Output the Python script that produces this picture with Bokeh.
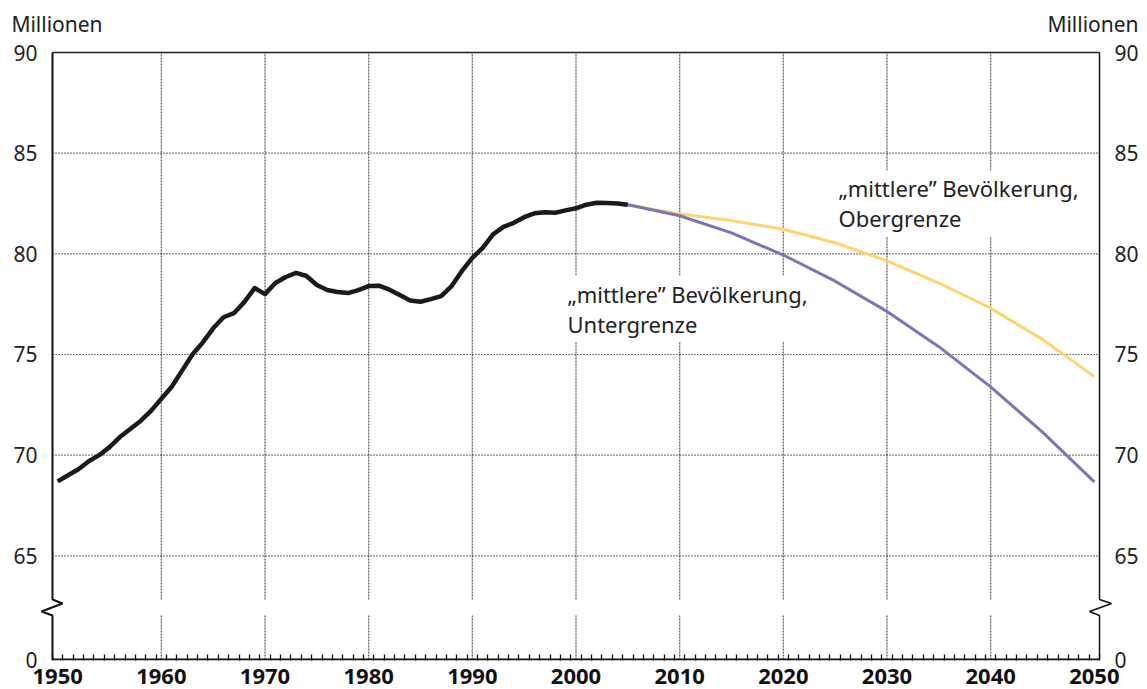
from bokeh.plotting import figure
from bokeh.models import FixedTicker, LinearAxis, Range1d, Label
from bokeh.embed import file_html
from bokeh.resources import INLINE

# ---------------- data (millions) ----------------
hist_years = list(range(1950, 2006))
hist_pop = [68.7, 69.0, 69.3, 69.7, 70.0, 70.4, 70.9, 71.3, 71.7, 72.2,
            72.8, 73.4, 74.2, 75.0, 75.6, 76.3, 76.85, 77.05, 77.6, 78.3,
            78.0, 78.55, 78.85, 79.05, 78.9, 78.45, 78.2, 78.1, 78.05, 78.2,
            78.4, 78.42, 78.22, 77.95, 77.68, 77.62, 77.75, 77.9, 78.4, 79.15,
            79.8, 80.3, 80.97, 81.34, 81.54, 81.82, 82.01, 82.06, 82.04, 82.16,
            82.26, 82.44, 82.54, 82.53, 82.5, 82.44]

proj_years = [2005, 2010, 2015, 2020, 2025, 2030, 2035, 2040, 2045, 2050]
lower_pop = [82.44, 81.89, 81.04, 79.94, 78.64, 77.14, 75.39, 73.39, 71.14, 68.67]
upper_pop = [82.44, 81.98, 81.65, 81.22, 80.55, 79.65, 78.55, 77.3, 75.75, 73.9]

x_tick_years = list(range(1950, 2051, 10))
x_grid_years = list(range(1960, 2041, 10))
y_ticks = [65, 70, 75, 80, 85, 90]
y_grid = [65, 70, 75, 80, 85]

label_upper = "\u201emittlere\u201d Bev\u00f6lkerung,\nObergrenze"
label_lower = "\u201emittlere\u201d Bev\u00f6lkerung,\nUntergrenze"
unit_text = "Millionen"

# ---------------- layout constants ----------------
ZERO = 59.85            # plot position where the broken axis shows "0"
FONT = "Noto Sans"
X0, X1 = 1949.5, 2050.5
PXX = (X1 - X0) / 1047.0      # years per pixel
PXY = (90 - ZERO) / 607.0     # units per pixel
B_TOP = ZERO + 60 * PXY       # axis break (gap) top
B_BOT = B_TOP - 16 * PXY      # axis break (gap) bottom
AX = "#111111"

p = figure(width=1147, height=689, output_backend="svg", toolbar_location=None,
           x_range=Range1d(X0 - 14 * PXX, X1 + 14 * PXX),
           y_range=Range1d(ZERO - 1 * PXY, 90 + 2 * PXY),
           min_border_left=38, min_border_right=34, min_border_top=50,
           min_border_bottom=29)
p.outline_line_color = None
p.background_fill_color = "white"
p.border_fill_color = "white"
p.xgrid.visible = False
p.ygrid.visible = False

# ---- x axis (labels + year ticks) ----
xa = p.xaxis[0]
xa.ticker = FixedTicker(ticks=x_tick_years,
                        minor_ticks=[y - 0.5 for y in range(1950, 2052)])
xa.axis_line_color = None
xa.major_tick_in = 0
xa.major_tick_out = 0
xa.minor_tick_in = 6
xa.minor_tick_out = 0
xa.minor_tick_line_width = 1.3
xa.minor_tick_line_color = AX
xa.major_label_text_font = FONT
xa.major_label_text_font_size = "22px"
xa.major_label_text_font_style = "bold"
xa.major_label_text_color = AX
xa.major_label_standoff = 8

# ---- y axes ----
def style_y(ax, standoff):
    ax.ticker = FixedTicker(ticks=[ZERO] + y_ticks)
    ax.major_label_overrides = {ZERO: "0"}
    ax.axis_line_color = None
    ax.major_tick_in = 0
    ax.major_tick_out = 0
    ax.minor_tick_in = 0
    ax.minor_tick_out = 0
    ax.major_label_text_font = FONT
    ax.major_label_text_font_size = "21px"
    ax.major_label_text_color = "#222222"
    ax.major_label_standoff = standoff

style_y(p.yaxis[0], 1)
ra = LinearAxis()
style_y(ra, 1)
p.add_layout(ra, "right")

# ---- unit captions above both value axes ----
M_LEFT = X0 + 4.5 * PXX
M_RIGHT = X1 - 6.5 * PXX
ta = LinearAxis(ticker=FixedTicker(ticks=[M_LEFT, M_RIGHT]))
ta.major_label_overrides = {M_LEFT: unit_text, M_RIGHT: unit_text}
ta.axis_line_color = None
ta.major_tick_in = 0
ta.major_tick_out = 0
ta.minor_tick_in = 0
ta.minor_tick_out = 0
ta.major_label_text_font = FONT
ta.major_label_text_font_size = "21px"
ta.major_label_text_color = "#222222"
ta.major_label_standoff = 13
p.add_layout(ta, "above")

# ---- grid (interrupted at the axis break) ----
n = len(x_grid_years)
p.segment(x0=x_grid_years, y0=[ZERO] * n, x1=x_grid_years, y1=[B_BOT] * n,
          line_color="#6e6e6e", line_dash="2 1", line_width=1.4)
p.segment(x0=x_grid_years, y0=[B_TOP] * n, x1=x_grid_years, y1=[90] * n,
          line_color="#6e6e6e", line_dash="2 1", line_width=1.4)
m = len(y_grid)
p.segment(x0=[X0] * m, y0=y_grid, x1=[X1] * m, y1=y_grid,
          line_color="#000000", line_dash="1 2", line_width=1.2)

# ---- series ----
p.line(proj_years, upper_pop, line_color="#ffd46e", line_width=3,
       line_join="round")
p.line(proj_years, lower_pop, line_color="#7d74b6", line_width=3,
       line_join="round")
p.line(hist_years, hist_pop, line_color="#1a1a1a", line_width=4.5,
       line_join="round")

# ---- axis lines with break marks ----
def axis_with_break(x, right_dx, left_dx):
    xs = [x, x, x + right_dx * PXX, x - left_dx * PXX, x, x]
    ys = [90, B_TOP, B_TOP - 4 * PXY, B_TOP - 12 * PXY, B_BOT, ZERO]
    return xs, ys

lx, ly = axis_with_break(X0, 10, 11)
p.line(lx + [X1], ly + [ZERO], line_color=AX, line_width=2)
rx, ry = axis_with_break(X1, 12, 10)
p.line(rx, ry, line_color=AX, line_width=1.5)
p.line([X0, X1], [90, 90], line_color="#222222", line_width=1.5)

# ---- annotations ----
for txt, xx, yy in [(label_upper, X0 + 783 * PXX, 84.14),
                    (label_lower, X0 + 512 * PXX, 78.92)]:
    p.add_layout(Label(x=xx, y=yy, text=txt, text_font=FONT,
                       text_font_size="22px", text_color="#222222",
                       text_baseline="top", text_align="left",
                       text_line_height=1.0,
                       background_fill_color="white", padding=3))

open("out.html", "w").write(file_html(p, INLINE))
